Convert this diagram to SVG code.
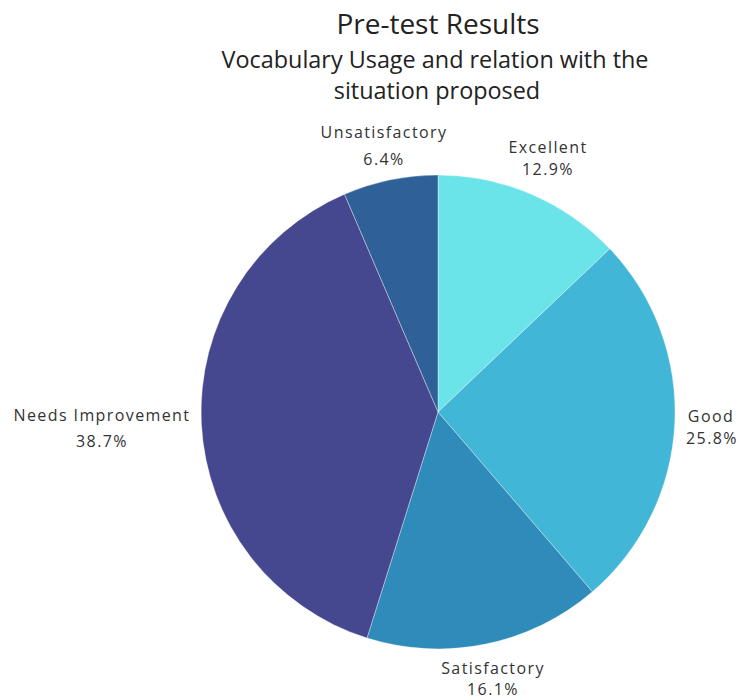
<svg xmlns="http://www.w3.org/2000/svg" width="739" height="700" viewBox="0 0 739 700">
<style>
text{font-family:"Open Sans","Liberation Sans",sans-serif;fill:#333;text-anchor:middle}
.t{font-size:28px;fill:#222}
.s{font-size:23.4px;fill:#222}
.l{font-size:16px;letter-spacing:1.4px}
.w{stroke:#ffffff;stroke-width:0.6;stroke-opacity:0.6}
</style>
<rect width="739" height="700" fill="#ffffff"/>
<g id="title">
<text class="t" x="438" y="34">Pre-test Results</text>
<text class="s" x="435" y="68">Vocabulary Usage and relation with the</text>
<text class="s" x="437" y="99">situation proposed</text>
</g>
<g id="slices">
<g id="excellent"><path class="w" d="M438,412 L438,175 A237,237 0 0 1 609.8,248.7 Z" fill="#6ae4e8"/></g>
<g id="good"><path class="w" d="M438,412 L609.8,248.7 A237,237 0 0 1 592.4,591.8 Z" fill="#42b6d6"/></g>
<g id="satisfactory"><path class="w" d="M438,412 L592.4,591.8 A237,237 0 0 1 367,638 Z" fill="#2e8bba"/></g>
<g id="needs-improvement"><path class="w" d="M438,412 L367,638 A237,237 0 0 1 344.5,194.2 Z" fill="#45478f"/></g>
<g id="unsatisfactory"><path class="w" d="M438,412 L344.5,194.2 A237,237 0 0 1 438,175 Z" fill="#2f6098"/></g>
</g>
<g id="labels">
<text class="l" x="384" y="138">Unsatisfactory</text>
<text class="l" x="384" y="165">6.4%</text>
<text class="l" x="548" y="153">Excellent</text>
<text class="l" x="548" y="175">12.9%</text>
<text class="l" x="711" y="422">Good</text>
<text class="l" x="712" y="444">25.8%</text>
<text class="l" x="493" y="674">Satisfactory</text>
<text class="l" x="493" y="695">16.1%</text>
<text class="l" x="102" y="421">Needs Improvement</text>
<text class="l" x="102" y="447">38.7%</text>
</g>
</svg>
